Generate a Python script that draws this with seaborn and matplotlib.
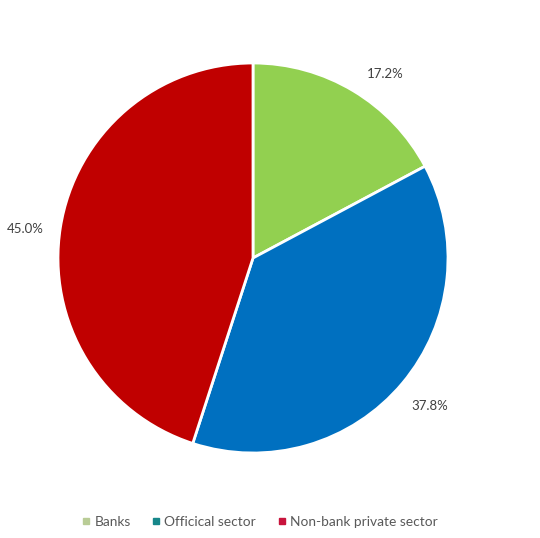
import matplotlib
matplotlib.use("Agg")
import matplotlib.pyplot as plt
from matplotlib.lines import Line2D
import seaborn as sns

# Holdings by creditor type (% of total)
categories = ["Banks", "Officical sector", "Non-bank private sector"]
shares = [17.2, 37.8, 45.0]
slice_colors = ["#92d050", "#0070c0", "#c00000"]
marker_colors = ["#b9cc96", "#17878a", "#c8143c"]

sns.set_theme(style="white")
plt.rcParams["font.family"] = ["Lato", "DejaVu Sans"]

W, H = 540, 538
cx, cy, r = 253, 258, 195
fig = plt.figure(figsize=(W / 100, H / 100), dpi=100)
ax = fig.add_axes([(cx - r) / W, (H - cy - r) / H, 2 * r / W, 2 * r / H])

wedges, texts, autotexts = ax.pie(
    shares,
    colors=slice_colors,
    startangle=90,
    counterclock=False,
    autopct="%.1f%%",
    pctdistance=1.18,
    wedgeprops=dict(edgecolor="white", linewidth=2),
    textprops=dict(color="#404040", fontsize=9.5),
)
# small nudges of the outside value labels
nudges = [(0.07, -0.07), (0.0, 0.0), (0.0, -0.035)]
for t, (dx, dy) in zip(autotexts, nudges):
    x, y = t.get_position()
    t.set_position((x + dx, y + dy))

ax.set_xlim(-1, 1)
ax.set_ylim(-1, 1)
ax.set_aspect("equal")

handles = [
    Line2D([0], [0], marker="s", linestyle="none", markersize=4,
           markerfacecolor=c, markeredgecolor=c, label=lab)
    for c, lab in zip(marker_colors, categories)
]
fig.legend(handles=handles, loc="center", bbox_to_anchor=(0.48, 0.03),
           ncol=3, frameon=False, fontsize=9.9, handletextpad=0.2,
           columnspacing=1.45, labelcolor="#595959", handlelength=0.8)

fig.savefig("out.png", dpi=100)
